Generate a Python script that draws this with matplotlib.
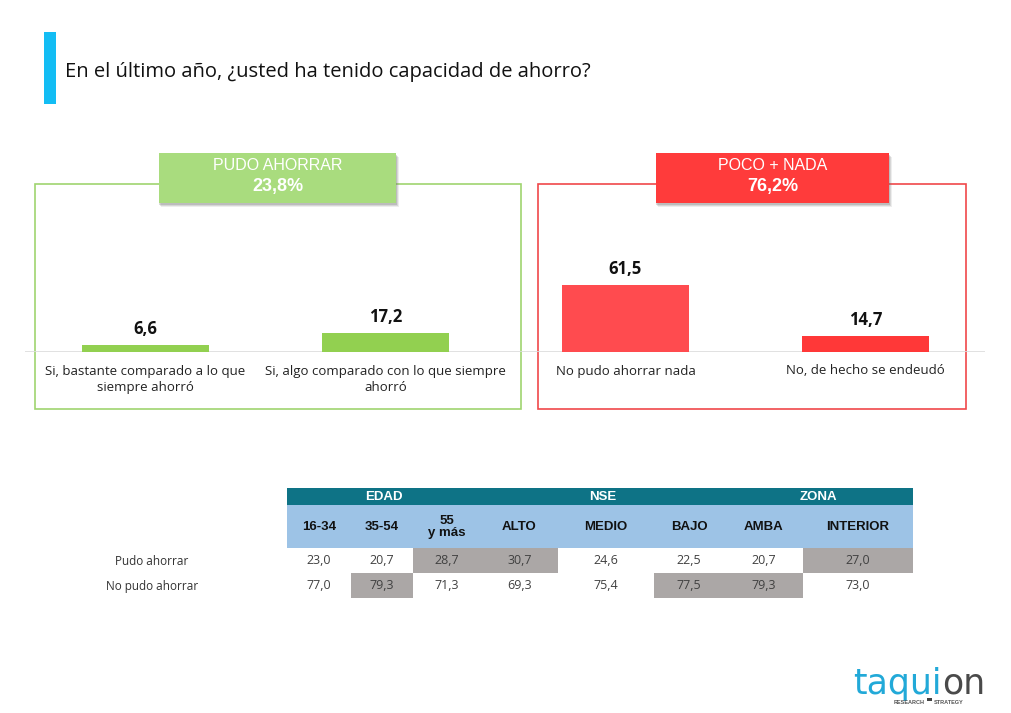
import matplotlib.pyplot as plt
from matplotlib.patches import Rectangle

# datos
categorias = ["Si, bastante comparado a lo que\nsiempre ahorró",
              "Si, algo comparado con lo que siempre\nahorró",
              "No pudo ahorrar nada",
              "No, de hecho se endeudó"]
valores = [6.6, 17.2, 61.5, 14.7]
grupos = ["PUDO AHORRAR", "POCO + NADA"]
totales = [23.8, 76.2]

tabla_grupos = ["EDAD", "NSE", "ZONA"]
tabla_cols = ["16-34", "35-54", "55\ny más", "ALTO", "MEDIO", "BAJO", "AMBA", "INTERIOR"]
filas = ["Pudo ahorrar", "No pudo ahorrar"]
pudo = [23.0, 20.7, 28.7, 30.7, 24.6, 22.5, 20.7, 27.0]
no_pudo = [77.0, 79.3, 71.3, 69.3, 75.4, 77.5, 79.3, 73.0]
# celdas resaltadas en gris
marca_pudo = [False, False, True, True, False, False, False, True]
marca_no_pudo = [False, True, False, False, False, True, True, False]

VERDE = "#92d050"
VERDE_CLARO = "#a9dc7e"
ROJO = "#ff3b3b"
ROJO_BAR = ["#ff4b4f", "#ff3838"]
TEAL = "#0e7386"
CELESTE = "#9dc3e6"
GRIS = "#aba7a6"

W, H = 1012, 713


def fmt(v):
    return f"{v:.1f}".replace(".", ",")


fig = plt.figure(figsize=(W / 100, H / 100), dpi=100)
bg = fig.add_axes([0, 0, 1, 1])
bg.set_xlim(0, W)
bg.set_ylim(H, 0)
bg.axis("off")

# titulo
bg.add_patch(Rectangle((44, 32), 12, 72, color="#13bdf4", lw=0))
bg.text(65, 72, "En el último año, ¿usted ha tenido capacidad de ahorro?",
        fontsize=14.5, family="Open Sans", va="center", ha="left", color="#111111")

# marcos de los paneles
bg.add_patch(Rectangle((35, 184), 486, 225, fill=False, ec="#9fd46f", lw=1.2))
bg.add_patch(Rectangle((538, 184), 428, 225, fill=False, ec="#f0484a", lw=1.2))

# cajas de encabezado con sombra difusa
cajas = [(159, 237, VERDE_CLARO), (656, 233, ROJO)]
for (x0, w, c), g, t in zip(cajas, grupos, totales):
    for k, a in [(4, 0.12), (3, 0.18), (2, 0.25)]:
        bg.add_patch(Rectangle((x0 + k - 2, 153 + k), w + 1, 50, color="#707070",
                               alpha=a, lw=0))
    bg.add_patch(Rectangle((x0, 153), w, 50, color=c, lw=0))
    bg.text(x0 + w / 2, 166, g, ha="center", va="center", color="white",
            fontsize=11.5, family="Liberation Sans")
    bg.text(x0 + w / 2, 187, fmt(t) + "%", ha="center", va="center", color="white",
            fontsize=13, family="Liberation Sans", weight="bold")

# barras
base_px = 352
ymax = 140
px_por_unidad = 1.09
ax = fig.add_axes([25.5 / W, (H - base_px) / H, 960 / W, ymax * px_por_unidad / H])
ax.set_xlim(-0.5, 3.5)
ax.set_ylim(0, ymax)
ax.axis("off")
colores = [VERDE, VERDE] + ROJO_BAR
xs = range(len(valores))
ax.bar(xs, valores, width=0.53, color=colores, zorder=2)
ax.axhline(0, color="#dcdcdc", lw=1.2, zorder=1)
for x, v, cat in zip(xs, valores, categorias):
    ax.annotate(fmt(v), (x, v), xytext=(0, 5), textcoords="offset points",
                ha="center", va="bottom", fontsize=12, weight="bold",
                family="Open Sans", color="#111111")
    ax.annotate(cat, (x, 0), xytext=(0, -9), textcoords="offset points",
                ha="center", va="top", fontsize=9.5, family="Open Sans",
                color="#222222", linespacing=1.35, annotation_clip=False)

# tabla
bordes = [287, 351, 413, 481, 558, 654, 724, 803, 913]
span_grupos = [(0, 3), (3, 6), (6, 8)]
bg.add_patch(Rectangle((287, 488), 626, 17, color=TEAL, lw=0))
bg.add_patch(Rectangle((287, 505), 626, 43, color=CELESTE, lw=0))
for g, (a, b) in zip(tabla_grupos, span_grupos):
    bg.text((bordes[a] + bordes[b]) / 2, 496.5, g, ha="center", va="center",
            color="white", fontsize=9.5, weight="bold", family="Liberation Sans")
for i, c in enumerate(tabla_cols):
    cx = (bordes[i] + bordes[i + 1]) / 2
    bg.text(cx, 527, c, ha="center", va="center", fontsize=9.5, weight="bold",
            family="Liberation Sans", color="#111111", linespacing=0.95)

filas_y = [(548, 25), (573, 25)]
for nombre, vals, marcas, (y0, h) in zip(filas, [pudo, no_pudo],
                                         [marca_pudo, marca_no_pudo], filas_y):
    bg.text(152, y0 + h / 2 + 1, nombre, ha="center", va="center", fontsize=8.5,
            family="Open Sans", color="#333333")
    for i, (v, m) in enumerate(zip(vals, marcas)):
        x0, x1 = bordes[i], bordes[i + 1]
        if m:
            bg.add_patch(Rectangle((x0, y0), x1 - x0, h, color=GRIS, lw=0))
        bg.text((x0 + x1) / 2, y0 + h / 2, fmt(v), ha="center", va="center",
                fontsize=9, family="Open Sans", color="#404040")

# logo
t1 = bg.text(853, 694, "taqui", fontsize=25, color="#22a9d8", family="DejaVu Sans",
             ha="left", va="baseline")
fig.canvas.draw()
bb = t1.get_window_extent().transformed(bg.transData.inverted())
x_fin = max(bb.x0, bb.x1)
bg.text(x_fin + 1, 694, "on", fontsize=25, color="#4a4a4a", family="DejaVu Sans",
        ha="left", va="baseline")
bg.text(925, 702, "RESEARCH", fontsize=4, color="#555555", weight="bold",
        ha="right", va="center", family="Liberation Sans")
bg.add_patch(Rectangle((927, 698), 5, 3, color="#444444", lw=0))
bg.text(934, 702, "STRATEGY", fontsize=4, color="#555555", weight="bold",
        ha="left", va="center", family="Liberation Sans")

fig.savefig("out.png", dpi=100)
